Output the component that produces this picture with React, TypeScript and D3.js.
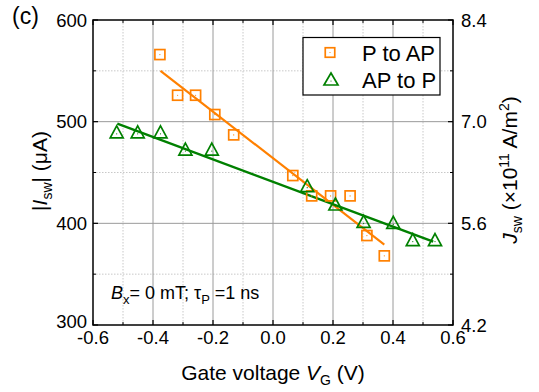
import React from "react";
import * as d3 from "d3";

// Switching current vs gate voltage
const pToApVg = [-0.377, -0.318, -0.258, -0.194, -0.131, 0.066, 0.129, 0.192, 0.257, 0.313, 0.371];
const pToApI = [566, 526, 526, 507, 487, 447, 427, 427, 427, 388, 368];
const apToPVg = [-0.521, -0.451, -0.375, -0.292, -0.204, 0.114, 0.208, 0.302, 0.401, 0.466, 0.54];
const apToPI = [490, 490, 490, 473, 473, 437, 419, 402, 401, 384, 384];

// Linear fit segments (endpoints)
const pToApFitVg = [-0.375, 0.371];
const pToApFitI = [550, 379];
const apToPFitVg = [-0.519, 0.534];
const apToPFitI = [498, 382];

const xTicks = [-0.6, -0.4, -0.2, 0.0, 0.2, 0.4, 0.6];
const xMinor = [-0.5, -0.3, -0.1, 0.1, 0.3, 0.5];
const yTicks = [300, 400, 500, 600];
const yMinor = [350, 450, 550];
const jTickLabels = ["4.2", "5.6", "7.0", "8.4"];

const ORANGE = "#ff8000";
const GREEN = "#008000";
const FONT = "'Liberation Sans', Arial, sans-serif";

const W = 539;
const H = 392;
const L = 93;
const R = 453;
const T = 20;
const B = 325;

const x = d3.scaleLinear().domain([-0.6, 0.6]).range([L, R]);
const y = d3.scaleLinear().domain([300, 600]).range([B, T]);

function Square({ cx, cy, s = 10 }: { cx: number; cy: number; s?: number }) {
  return (
    <g>
      <rect x={cx - s / 2} y={cy - s / 2} width={s} height={s} fill="none" stroke={ORANGE} strokeWidth={1.7} />
      <circle cx={cx} cy={cy} r={0.6} fill={ORANGE} />
    </g>
  );
}

function Triangle({ cx, cy, w = 13, h = 12 }: { cx: number; cy: number; w?: number; h?: number }) {
  const p = d3.path();
  p.moveTo(cx, cy - h / 2);
  p.lineTo(cx + w / 2, cy + h / 2);
  p.lineTo(cx - w / 2, cy + h / 2);
  p.closePath();
  return (
    <g>
      <path d={p.toString()} fill="none" stroke={GREEN} strokeWidth={1.7} strokeLinejoin="miter" />
      <circle cx={cx} cy={cy + 2} r={0.6} fill={GREEN} />
    </g>
  );
}

export default function App() {
  const line = d3
    .line<[number, number]>()
    .x((d) => x(d[0]))
    .y((d) => y(d[1]));
  const pFit = line(d3.zip(pToApFitVg, pToApFitI) as [number, number][]) || "";
  const aFit = line(d3.zip(apToPFitVg, apToPFitI) as [number, number][]) || "";

  return (
    <svg
      width={W}
      height={H}
      style={{ position: "absolute", left: 0, top: 0, background: "#fff" }}
      fontFamily={FONT}
    >
      <rect x={0} y={0} width={W} height={H} fill="#fff" />

      {/* minor grid */}
      {xMinor.map((v) => (
        <line key={"xm" + v} x1={x(v)} x2={x(v)} y1={T} y2={B} stroke="#c8c8c8" strokeWidth={1} strokeDasharray="1.5,1.5" />
      ))}
      {yMinor.map((v) => (
        <line key={"ym" + v} x1={L} x2={R} y1={y(v)} y2={y(v)} stroke="#c8c8c8" strokeWidth={1} strokeDasharray="1.5,1.5" />
      ))}
      {/* major grid */}
      {xTicks.slice(1, -1).map((v) => (
        <line key={"xg" + v} x1={x(v)} x2={x(v)} y1={T} y2={B} stroke="#9a9a9a" strokeWidth={1} />
      ))}
      {yTicks.slice(1, -1).map((v) => (
        <line key={"yg" + v} x1={L} x2={R} y1={y(v)} y2={y(v)} stroke="#9a9a9a" strokeWidth={1} />
      ))}

      {/* fit lines */}
      <path d={pFit} fill="none" stroke={ORANGE} strokeWidth={2.2} />
      <path d={aFit} fill="none" stroke={GREEN} strokeWidth={2.5} />

      {/* data markers */}
      {pToApVg.map((v, i) => (
        <Square key={"p" + i} cx={x(v)} cy={y(pToApI[i])} />
      ))}
      {apToPVg.map((v, i) => (
        <Triangle key={"a" + i} cx={x(v)} cy={y(apToPI[i])} />
      ))}

      {/* frame */}
      <rect x={L} y={T} width={R - L} height={B - T} fill="none" stroke="#000" strokeWidth={1.5} />

      {/* ticks (inward on all sides) */}
      {xTicks.map((v) => (
        <g key={"xt" + v}>
          <line x1={x(v)} x2={x(v)} y1={B} y2={B - 5} stroke="#000" strokeWidth={1.2} />
          <line x1={x(v)} x2={x(v)} y1={T} y2={T + 5} stroke="#000" strokeWidth={1.2} />
        </g>
      ))}
      {xMinor.map((v) => (
        <g key={"xmt" + v}>
          <line x1={x(v)} x2={x(v)} y1={B} y2={B - 3} stroke="#000" strokeWidth={1} />
          <line x1={x(v)} x2={x(v)} y1={T} y2={T + 3} stroke="#000" strokeWidth={1} />
        </g>
      ))}
      {yTicks.map((v) => (
        <g key={"yt" + v}>
          <line x1={L} x2={L + 5} y1={y(v)} y2={y(v)} stroke="#000" strokeWidth={1.2} />
          <line x1={R} x2={R - 5} y1={y(v)} y2={y(v)} stroke="#000" strokeWidth={1.2} />
        </g>
      ))}
      {yMinor.map((v) => (
        <g key={"ymt" + v}>
          <line x1={L} x2={L + 3} y1={y(v)} y2={y(v)} stroke="#000" strokeWidth={1} />
          <line x1={R} x2={R - 3} y1={y(v)} y2={y(v)} stroke="#000" strokeWidth={1} />
        </g>
      ))}

      {/* tick labels */}
      {xTicks.map((v) => (
        <text key={"xl" + v} x={x(v)} y={344} textAnchor="middle" fontSize={18.5} fill="#000">
          {v.toFixed(1)}
        </text>
      ))}
      {yTicks.map((v, i) => (
        <text key={"yl" + v} x={87} y={y(v) + (i === 0 ? 2.5 : 6.5)} textAnchor="end" fontSize={18.5} fill="#000">
          {v}
        </text>
      ))}
      {yTicks.map((v, i) => (
        <text key={"jl" + v} x={461} y={y(v) + 6.5} textAnchor="start" fontSize={18.5} fill="#000">
          {jTickLabels[i]}
        </text>
      ))}

      {/* axis titles */}
      <text x={(L + R) / 2} y={380} textAnchor="middle" fontSize={21} fill="#000">
        Gate voltage <tspan fontStyle="italic">V</tspan>
        <tspan fontSize={14} dy={5}>G</tspan>
        <tspan dy={-5}> (V)</tspan>
      </text>
      <text transform={`translate(47,171) rotate(-90)`} textAnchor="middle" fontSize={21} fill="#000">
        |<tspan fontStyle="italic">I</tspan>
        <tspan fontSize={14} dy={5}>sw</tspan>
        <tspan dy={-5}>| (μA)</tspan>
      </text>
      <text transform={`translate(517,170) rotate(-90)`} textAnchor="middle" fontSize={21} fill="#000">
        <tspan fontStyle="italic">J</tspan>
        <tspan fontSize={14} dy={5}>sw</tspan>
        <tspan dy={-5}> (×10</tspan>
        <tspan fontSize={14} dy={-8}>11</tspan>
        <tspan dy={8}> A/m</tspan>
        <tspan fontSize={14} dy={-8}>2</tspan>
        <tspan dy={8}>)</tspan>
      </text>

      {/* panel label */}
      <text x={12} y={24} fontSize={23} fill="#000">(c)</text>

      {/* condition annotation */}
      <text x={111} y={299} fontSize={18} fill="#000">
        <tspan fontStyle="italic">B</tspan>
        <tspan fontSize={13} dy={5}>x</tspan>
        <tspan dy={-5}>= 0 mT; τ</tspan>
        <tspan fontSize={13} dy={5}>P</tspan>
        <tspan dy={-5}> =1 ns</tspan>
      </text>

      {/* legend */}
      <rect x={303} y={37.5} width={137} height={57.5} fill="#fff" stroke="#000" strokeWidth={1.2} />
      <Square cx={330} cy={52.5} s={9.5} />
      <Triangle cx={331} cy={79} w={14} h={12} />
      <text x={362} y={60.5} fontSize={22} fill="#000">P to AP</text>
      <text x={362} y={87.5} fontSize={22} fill="#000">AP to P</text>
    </svg>
  );
}
